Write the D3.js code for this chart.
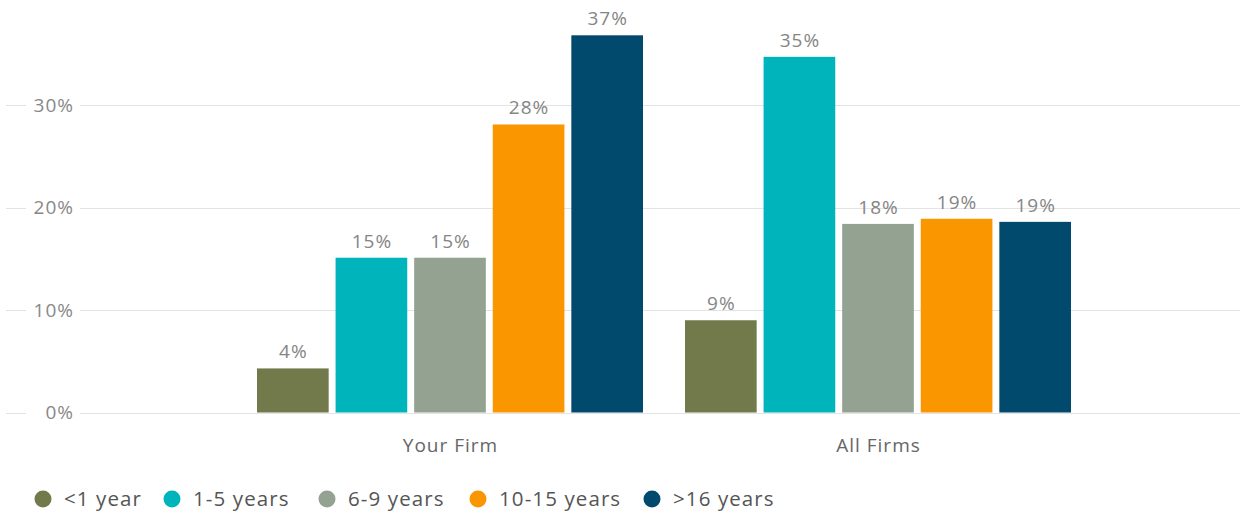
<!DOCTYPE html>
<html>
<head>
<meta charset="utf-8">
<script src="https://cdn.jsdelivr.net/npm/d3@7"></script>
<style>
  body { margin: 0; background: #fff; }
  svg { font-family: "Open Sans", sans-serif; }
</style>
</head>
<body>
<div id="chart"></div>
<script>
// data
var groups = ["Your Firm", "All Firms"];
var seriesNames = ["<1 year", "1-5 years", "6-9 years", "10-15 years", ">16 years"];
var yourFirm = [4.3, 15.1, 15.1, 28.1, 36.8];
var allFirms = [9.0, 34.7, 18.4, 18.9, 18.6];
var valueLabels = [["4%", "15%", "15%", "28%", "37%"], ["9%", "35%", "18%", "19%", "19%"]];
var yTicks = [0, 10, 20, 30];
var colors = ["#72794a", "#00b4bc", "#93a291", "#fa9600", "#014a6e"];

var width = 1242, height = 518;
var values = [yourFirm, allFirms];

var svg = d3.select("#chart").append("svg")
    .attr("width", width)
    .attr("height", height);

var x0 = d3.scaleBand()
    .domain(groups)
    .range([236, 1092])
    .paddingInner(0);

var x1 = d3.scaleBand()
    .domain(d3.range(seriesNames.length))
    .range([21, x0.bandwidth() - 21])
    .paddingInner(0.088);

var y = d3.scaleLinear()
    .domain([0, 40])
    .range([412.5, 2.5]);

var color = d3.scaleOrdinal().domain(d3.range(seriesNames.length)).range(colors);

// gridlines
var grid = svg.append("g").attr("class", "grid");
grid.selectAll("line")
    .data(yTicks)
    .enter().append("line")
    .attr("x1", 6)
    .attr("x2", 1240)
    .attr("y1", function(d) { return Math.round(y(d)) + 0.5; })
    .attr("y2", function(d) { return Math.round(y(d)) + 0.5; })
    .attr("stroke", "#e3e3e3")
    .attr("stroke-width", 1);

// tick labels sit on the lines with a white backing
var tick = svg.append("g").selectAll("g")
    .data(yTicks)
    .enter().append("g")
    .attr("transform", function(d) { return "translate(0," + y(d) + ")"; });
tick.append("rect")
    .attr("x", 26)
    .attr("y", -6)
    .attr("width", 54)
    .attr("height", 12)
    .attr("fill", "#fff");
tick.append("text")
    .attr("x", 74)
    .attr("dy", "0.35em")
    .attr("text-anchor", "end")
    .attr("fill", "#888")
    .attr("font-size", 19)
    .attr("letter-spacing", 1)
    .text(function(d) { return d + "%"; });

// bars
var group = svg.selectAll(".group")
    .data(groups)
    .enter().append("g")
    .attr("class", "group")
    .attr("transform", function(d) { return "translate(" + x0(d) + ",0)"; });

group.selectAll("rect")
    .data(function(d, gi) { return values[gi].map(function(v, i) { return {v: v, i: i, g: gi}; }); })
    .enter().append("rect")
    .attr("x", function(d) { return x1(d.i); })
    .attr("width", x1.bandwidth())
    .attr("y", function(d) { return y(d.v); })
    .attr("height", function(d) { return y(0) - y(d.v); })
    .attr("fill", function(d) { return color(d.i); });

group.selectAll("text.val")
    .data(function(d, gi) { return values[gi].map(function(v, i) { return {v: v, i: i, g: gi}; }); })
    .enter().append("text")
    .attr("class", "val")
    .attr("x", function(d) { return x1(d.i) + x1.bandwidth() / 2 + 0.5; })
    .attr("y", function(d) { return y(d.v) - 10; })
    .attr("text-anchor", "middle")
    .attr("fill", "#858585")
    .attr("font-size", 19)
    .attr("letter-spacing", 1)
    .text(function(d) { return valueLabels[d.g][d.i]; });

// category labels
svg.selectAll("text.cat")
    .data(groups)
    .enter().append("text")
    .attr("class", "cat")
    .attr("x", function(d) { return x0(d) + x0.bandwidth() / 2 + 0.5; })
    .attr("y", 452)
    .attr("text-anchor", "middle")
    .attr("fill", "#666")
    .attr("font-size", 19)
    .attr("letter-spacing", 1)
    .text(function(d) { return d; });

// legend
var legendX = [43, 172, 327, 478, 652];
var legend = svg.append("g").selectAll("g")
    .data(seriesNames)
    .enter().append("g")
    .attr("transform", function(d, i) { return "translate(" + legendX[i] + ",499)"; });
legend.append("circle")
    .attr("r", 8.5)
    .attr("fill", function(d, i) { return color(i); });
legend.append("text")
    .attr("x", 21)
    .attr("dy", "0.35em")
    .attr("fill", "#555")
    .attr("font-size", 20.5)
    .attr("letter-spacing", 1.1)
    .text(function(d) { return d; });
</script>
</body>
</html>
